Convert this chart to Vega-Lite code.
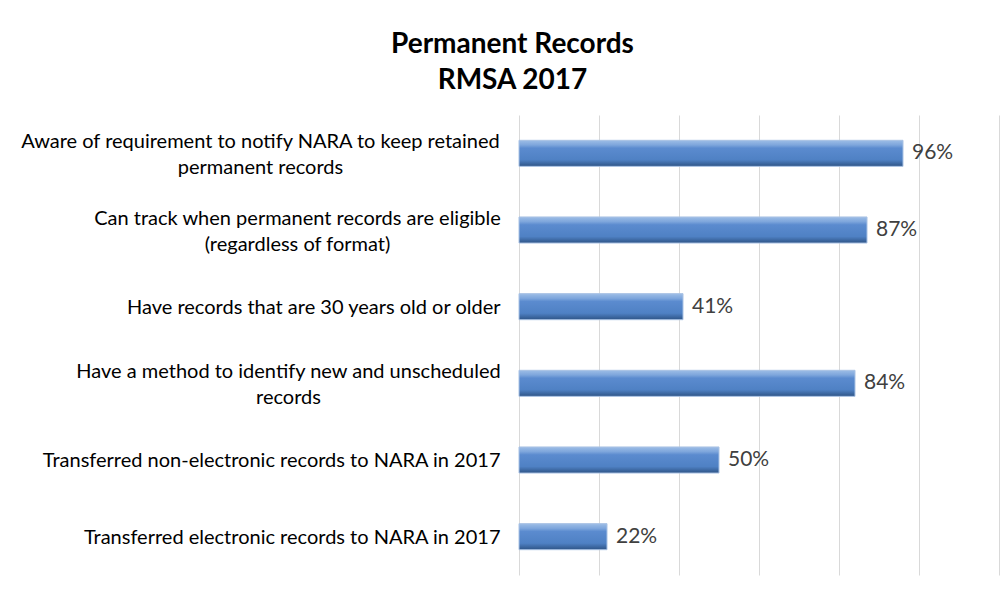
{
  "$schema": "https://vega.github.io/schema/vega-lite/v6.json",
  "autosize": {"type": "none"},
  "padding": {"left": 519, "top": 115, "right": 3, "bottom": 14},
  "width": 480,
  "height": 460,
  "background": "white",
  "title": {
    "text": ["Permanent Records", "RMSA 2017"],
    "font": "Lato",
    "fontSize": 28,
    "fontWeight": "bold",
    "color": "#000000",
    "anchor": "middle",
    "frame": "bounds",
    "lineHeight": 36,
    "offset": 20,
    "dx": 3
  },
  "config": {"view": {"stroke": null}},
  "data": {
    "values": [
      {"label": "Aware of requirement to notify NARA to keep retained|permanent records", "pct": 0.96},
      {"label": "Can track when permanent records are eligible|(regardless of format)", "pct": 0.87},
      {"label": "Have records that are 30 years old or older", "pct": 0.41},
      {"label": "Have a method to identify new and unscheduled|records", "pct": 0.84},
      {"label": "Transferred non-electronic records to NARA in 2017", "pct": 0.50},
      {"label": "Transferred electronic records to NARA in 2017", "pct": 0.22}
    ]
  },
  "encoding": {
    "y": {
      "field": "label",
      "type": "nominal",
      "sort": null,
      "scale": {"paddingInner": 0.66, "paddingOuter": 0.33},
      "axis": {
        "title": null,
        "ticks": false,
        "domain": false,
        "labelPadding": {
          "condition": [
            {"test": "indexof(datum.value, 'Aware') == 0", "value": 259},
            {"test": "indexof(datum.value, 'Can track') == 0", "value": 222},
            {"test": "indexof(datum.value, 'Have a method') == 0", "value": 231}
          ],
          "value": 19
        },
        "labelAlign": {
          "condition": {"test": "indexof(datum.value, '|') >= 0", "value": "center"},
          "value": "right"
        },
        "labelOffset": {
          "condition": {"test": "indexof(datum.value, '|') >= 0", "value": -11},
          "value": 1
        },
        "labelFont": "Lato",
        "labelFontSize": 20,
        "labelColor": "#000000",
        "labelLimit": 600,
        "labelLineHeight": 26,
        "labelExpr": "split(datum.value, '|')"
      }
    },
    "x": {
      "field": "pct",
      "type": "quantitative",
      "scale": {"domain": [0, 1.2], "nice": false},
      "axis": {
        "title": null,
        "labels": false,
        "ticks": false,
        "domain": false,
        "values": [0, 0.2, 0.4, 0.6, 0.8, 1.0, 1.2],
        "gridColor": "#d9d9d9",
        "gridWidth": 1
      }
    }
  },
  "layer": [
    {
      "mark": {
        "type": "bar",
        "stroke": "#a9c2e4",
        "strokeWidth": 1,
        "color": {
          "gradient": "linear",
          "x1": 0, "y1": 0, "x2": 0, "y2": 1,
          "stops": [
            {"offset": 0, "color": "#9dbde6"},
            {"offset": 0.18, "color": "#7ea6dc"},
            {"offset": 0.3, "color": "#5b8bcf"},
            {"offset": 0.75, "color": "#4f81c4"},
            {"offset": 1, "color": "#2e5486"}
          ]
        }
      }
    },
    {
      "mark": {
        "type": "text",
        "align": "left",
        "baseline": "middle",
        "dx": 9,
        "font": "Lato",
        "fontSize": 21,
        "color": "#404040"
      },
      "encoding": {
        "text": {"field": "pct", "type": "quantitative", "format": ".0%"}
      }
    }
  ]
}
